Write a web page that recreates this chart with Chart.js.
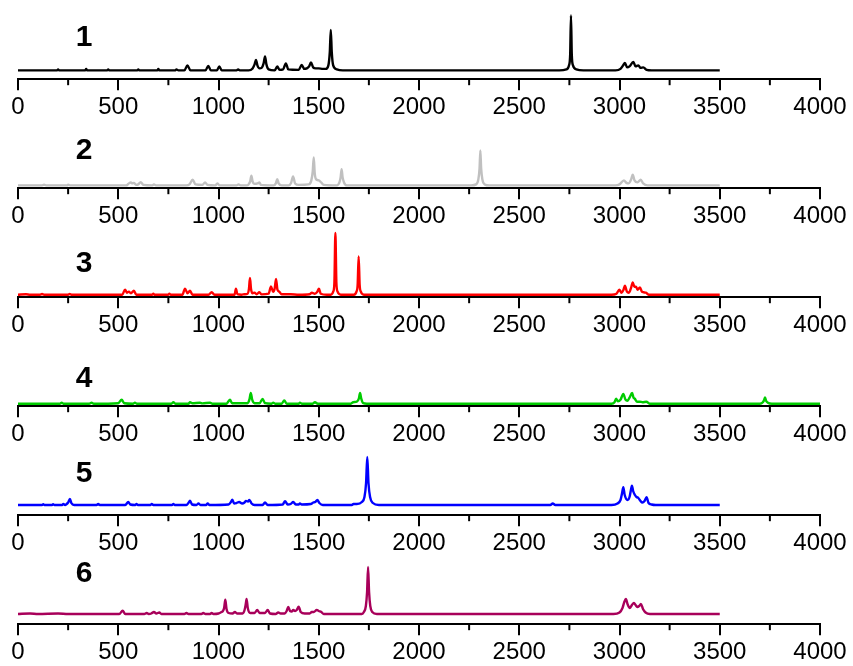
<!DOCTYPE html>
<html>
<head>
<meta charset="utf-8">
<script src="https://cdn.jsdelivr.net/npm/chart.js@4.4.0/dist/chart.umd.min.js"></script>
<style>
  body { margin: 0; background: #fff; }
  #wrap { position: relative; width: 853px; height: 666px; overflow: hidden; }
  #wrap canvas { position: absolute; left: 0; }
</style>
</head>
<body>
<div id="wrap"></div>
<script>
// wavenumber / intensity pairs for each spectrum (intensity above its own baseline)
const spectrum1 = [
  [0,0],[195,0],[200,1],[205,0],[335,0],[340,1.5],[345,0],[445,0],[450,1],[455,0],[595,0],[600,1],[605,0],
  [695,0],[700,1.5],[705,0],[785,0],[790,1],[800,0],
  [830,0],[845,5],[860,0],[935,0],[949,4.5],[962,0],[992,0],[1004,4],[1016,0],[1090,0],[1098,1],[1106,0],
  [1150,0],[1170,2],[1180,6],[1187,10.5],[1194,5],[1205,2],[1215,2.5],[1225,7],[1232,14],[1239,6],[1250,1],
  [1280,0],[1293,4],[1305,0.5],[1322,1],[1336,7],[1348,1],
  [1400,0.5],[1415,5.5],[1428,1.5],[1440,2],[1452,4],[1461,8],[1472,3],[1485,2],[1500,2],[1520,1.5],[1535,1.5],
  [1548,5],[1555,18],[1560,40.5],[1565,18],[1572,5],[1590,1],[1620,0],
  [2700,0],[2735,1],[2748,5],[2754,16],[2758,55],[2762,16],[2768,5],[2785,1],[2820,0],
  [2980,0],[3005,1.5],[3018,5],[3027,7.5],[3038,3],[3050,4],[3069,8.5],[3080,4],[3094,5],[3105,2.5],[3119,3],
  [3135,0.5],[3160,0],[3500,0]
];
const spectrum2 = [
  [0,0],[120,0],[130,0.7],[140,0],[245,0],[250,0.7],[260,0],[540,0],[550,1.5],[563,3],[570,2],[578,2.5],[590,0.5],
  [600,1],[612,3.3],[625,0.5],[670,0],[678,1],[688,0],
  [840,0],[855,1],[871,5.7],[885,1],[920,0.5],[933,3],[945,0.5],[985,0],[994,2],[1005,0],[1090,0],[1100,1],[1110,0],
  [1140,0],[1150,1],[1158,4],[1164,9.7],[1170,4],[1180,1.5],[1195,2],[1204,3],[1212,0.5],
  [1275,0],[1286,2],[1293,6.3],[1300,2],[1315,0],
  [1350,0],[1362,2.5],[1372,9],[1382,2],[1400,0.5],[1450,1],[1463,5],[1470,14],[1475,28],[1480,12],[1487,6],
  [1500,5],[1512,3],[1525,0.5],
  [1590,0],[1603,3],[1609,8],[1614,16.3],[1619,8],[1626,3],[1640,0],
  [2260,0],[2285,1],[2296,6],[2302,17],[2306,35],[2310,17],[2316,6],[2328,1],[2350,0],
  [2980,0],[3000,1],[3022,5],[3035,2.5],[3045,2],[3058,6],[3066,10.7],[3075,5],[3090,3],[3106,5.7],[3118,2],
  [3140,0],[3500,0]
];
const spectrum3 = [
  [0,0],[40,0.5],[60,0],[110,0],[120,0.7],[130,0],[250,0],[258,0.7],[266,0],
  [520,0],[534,5],[544,2],[553,3],[563,1.5],[578,4],[590,0],[670,0],[675,1],[680,0],[750,0],[755,1],[762,0],
  [820,0],[833,6],[845,1.5],[858,4],[870,0],[950,0],[966,2.5],[980,0],[1080,0],[1087,6],[1094,0.5],[1115,0],[1130,0.5],
  [1145,1],[1152,6],[1157,16.7],[1162,6],[1170,1.5],[1180,2],[1190,0.5],[1204,2.5],[1215,0.3],
  [1250,1],[1262,8.3],[1272,3],[1280,6],[1287,15.7],[1294,5],[1303,3],[1315,0.5],[1360,0.5],[1400,0],
  [1455,0.5],[1466,2],[1480,1],[1493,3],[1501,6],[1510,1],[1540,0],
  [1560,0],[1572,3],[1578,12],[1583,61.7],[1588,12],[1594,3],[1610,0],
  [1675,0],[1688,3],[1694,10],[1699,38.3],[1704,10],[1710,3],[1725,0],
  [2960,0],[2985,1],[2999,5],[3010,2],[3020,5],[3027,9],[3037,3],[3047,2],[3058,7],[3066,12.3],[3074,8],[3082,8],
  [3090,5],[3102,7.3],[3112,3],[3132,2],[3145,0],[3500,0]
];
const spectrum4 = [
  [0,0],[210,0],[218,1],[226,0],[355,0],[367,1],[378,0],[500,0.5],[517,4],[530,0.5],[575,0],[583,1],[592,0],
  [765,0],[775,1.5],[785,0],[850,0],[858,1.5],[870,0.5],[908,1],[920,0.3],[958,1],[970,0],
  [1040,0],[1057,4],[1068,0.5],[1145,0.5],[1154,4],[1161,10.7],[1168,4],[1180,0.5],[1205,0.5],[1220,4.7],[1232,0.5],
  [1265,0],[1273,1],[1282,0],[1315,0],[1328,3.3],[1340,0],[1400,0],[1406,1],[1415,0],[1470,0],[1481,1.5],[1495,0],
  [1660,0],[1672,1.5],[1690,2],[1700,5],[1706,10.7],[1712,5],[1722,0.5],[1740,0],
  [2960,0],[2975,1.5],[2983,5],[2992,2.5],[3005,4],[3019,9.7],[3030,4],[3040,3],[3050,6],[3063,10.7],[3070,6],
  [3076,5],[3088,2],[3101,2],[3115,1.5],[3134,2],[3150,0],
  [3700,0],[3715,1.5],[3722,4],[3726,6.3],[3731,3],[3740,1],[3760,0],[4000,0]
];
const spectrum5 = [
  [0,0],[120,0],[126,0.7],[132,0],[170,0],[175,0.7],[182,0],[220,0],[226,1],[235,0],[240,0.5],[250,2.5],[259,6],
  [266,2],[280,0],[392,0],[400,1],[408,0],[535,0],[550,3],[560,0.5],[585,0],[591,1],[598,0],[660,0],[667,1],[675,0],
  [768,0],[775,1],[782,0],
  [840,0],[850,2],[858,4.3],[868,0.5],[890,0],[900,1.5],[910,0],[938,0],[946,1.5],[955,0],
  [1050,0.5],[1062,3],[1069,5.3],[1078,1.5],[1090,2],[1103,3],[1118,1.5],[1130,2.5],[1137,4],[1147,3.5],[1154,5],
  [1165,1.5],[1180,0],[1220,0],[1232,2.5],[1245,0],[1320,0.5],[1332,3.7],[1345,0.5],[1360,1],[1373,3],[1385,0.5],
  [1400,0.5],[1406,1.5],[1415,0.5],[1460,1],[1473,2.5],[1483,3],[1493,5],[1503,2],[1520,0],
  [1665,0],[1673,1],[1690,1],[1715,3],[1728,8],[1736,22],[1742,48],[1748,22],[1756,8],[1770,2],[1800,0],
  [2655,0],[2667,1.5],[2680,0],
  [2960,0],[2990,1.5],[3005,5],[3012,11],[3019,17.7],[3026,10],[3040,5],[3050,8],[3056,14],[3062,19.3],[3068,14],
  [3077,10],[3085,8],[3094,7],[3105,4],[3114,2.5],[3125,4],[3135,7.7],[3145,2],[3160,0.5],[3180,0],[3500,0]
];
const spectrum6 = [
  [0,0],[60,0.5],[100,0],[200,0.5],[250,0],[505,0],[522,3.3],[535,0],[630,0],[642,1],[652,0],[665,0.5],[678,2],
  [690,0.5],[705,1.5],[715,0],[830,0],[840,1],[850,0],[915,0],[924,1],[935,0],[958,0],[966,1],[975,0],
  [1000,0.5],[1015,2],[1022,3],[1028,6],[1034,14.3],[1040,5],[1050,1],[1070,0.5],[1082,2],[1092,0.5],
  [1120,0.5],[1130,4],[1136,10],[1140,15],[1146,6],[1158,1],[1180,1],[1193,4],[1205,1],[1232,1],[1245,4],[1257,0.5],
  [1285,0],[1298,1.5],[1310,0.5],
  [1330,0.5],[1340,3],[1348,7],[1357,3],[1365,2.5],[1373,4],[1382,3],[1390,4],[1400,7.3],[1410,2],[1430,0.5],
  [1455,0.5],[1465,2],[1475,2],[1490,4],[1500,3],[1513,2],[1525,0],
  [1715,0],[1725,2],[1735,8],[1741,22],[1746,47],[1751,22],[1757,8],[1767,2],[1790,0],
  [2970,0],[3000,1.5],[3015,6],[3024,12],[3032,15],[3040,10],[3052,6],[3062,9],[3072,11],[3080,9],[3089,7],
  [3098,8],[3107,10],[3117,5],[3130,1.5],[3152,0],[3500,0]
];

const spectra = [spectrum1, spectrum2, spectrum3, spectrum4, spectrum5, spectrum6];
const spectrumLabels = ["1", "2", "3", "4", "5", "6"];
const spectrumColors = ["#000000", "#c0c0c0", "#ff0000", "#00cc00", "#0000ff", "#a8005a"];

const majorTicks = [0, 500, 1000, 1500, 2000, 2500, 3000, 3500, 4000];
const minorTicks = [250, 750, 1250, 1750, 2250, 2750, 3250, 3750];

// panel layout (pixels): axis line position, baseline lift, label height
const axisY = [79.5, 188.5, 297.5, 406.5, 515.5, 624.5];
const baselineLift = [8.8, 2.8, 2.5, 2.5, 10.2, 10.2];
const labelRise = [41.5, 37.5, 33.5, 27, 41, 50];

const fontFamily = "'Liberation Sans', Arial, Helvetica, sans-serif";

// short minor ticks and the bold panel number
const panelExtras = {
  id: "panelExtras",
  afterDraw(chart, args, opts) {
    const ctx = chart.ctx;
    const xScale = chart.scales.x;
    const y0 = xScale.top;
    ctx.save();
    ctx.strokeStyle = "#000";
    ctx.lineWidth = 2;
    minorTicks.forEach(v => {
      const px = xScale.getPixelForValue(v);
      ctx.beginPath();
      ctx.moveTo(px, y0);
      ctx.lineTo(px, y0 + 6);
      ctx.stroke();
    });
    ctx.fillStyle = "#000";
    ctx.font = "bold 30px " + fontFamily;
    ctx.textAlign = "center";
    ctx.textBaseline = "middle";
    ctx.fillText(opts.label, 84, y0 - opts.rise);
    ctx.restore();
  }
};

function drawPanel(i) {
  const wrap = document.getElementById("wrap");
  const canvas = document.createElement("canvas");
  canvas.width = 853;
  canvas.height = 130;
  wrap.appendChild(canvas);

  const lift = baselineLift[i];
  const chart = new Chart(canvas, {
    type: "line",
    data: {
      datasets: [{
        data: spectra[i].map(([x, y]) => ({ x, y })),
        borderColor: spectrumColors[i],
        borderWidth: 2.4,
        pointRadius: 0,
        cubicInterpolationMode: "monotone",
        fill: false
      }]
    },
    options: {
      responsive: false,
      animation: false,
      devicePixelRatio: 1,
      layout: { padding: { left: 18, right: 33, top: 4, bottom: 0 } },
      plugins: {
        legend: { display: false },
        tooltip: { enabled: false },
        panelExtras: { label: spectrumLabels[i], rise: labelRise[i] }
      },
      scales: {
        x: {
          type: "linear",
          min: 0,
          max: 4000,
          afterBuildTicks: axis => { axis.ticks = majorTicks.map(v => ({ value: v })); },
          grid: { drawOnChartArea: false, drawTicks: true, tickLength: 11, color: "#000", lineWidth: 2 },
          border: { display: true, color: "#000", width: 2 },
          ticks: {
            color: "#000",
            padding: 3,
            maxRotation: 0,
            autoSkip: false,
            font: { family: fontFamily, size: 24 },
            callback: value => String(value)
          }
        },
        y: { display: false, min: -lift, max: 100 }
      }
    },
    plugins: [panelExtras]
  });

  // one intensity unit per pixel
  const area = chart.chartArea;
  chart.options.scales.y.max = (area.bottom - area.top) - lift;
  chart.update();
  canvas.style.top = (axisY[i] - chart.scales.x.top) + "px";
}

window.addEventListener("DOMContentLoaded", function() {
  spectra.forEach((s, i) => drawPanel(i));
});
</script>
</body>
</html>
